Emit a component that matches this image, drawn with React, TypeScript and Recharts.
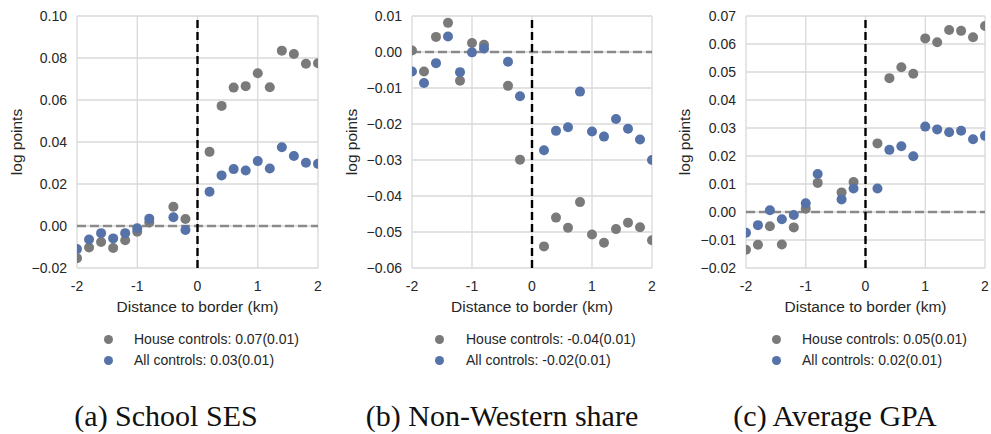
import React from "react";
import { CartesianGrid, ReferenceLine, Scatter, ScatterChart, XAxis, YAxis } from "recharts";

// distance bins (km); the -0.6 bin is missing in the source figure
const distance = [-2, -1.8, -1.6, -1.4, -1.2, -1, -0.8, -0.4, -0.2, 0.2, 0.4, 0.6, 0.8, 1, 1.2, 1.4, 1.6, 1.8, 2];
const xTicks = [-2, -1, 0, 1, 2];

const sesHouse = [-0.0153, -0.0102, -0.0076, -0.0105, -0.0068, -0.0027, 0.0017, 0.0092, 0.0033, 0.0353, 0.0572, 0.0659, 0.0666, 0.0727, 0.0661, 0.0835, 0.0819, 0.0773, 0.0775];
const sesAll = [-0.011, -0.0064, -0.0034, -0.0059, -0.0034, -0.0011, 0.0035, 0.0042, -0.0019, 0.0163, 0.0241, 0.0271, 0.0264, 0.0309, 0.0274, 0.0375, 0.0333, 0.0301, 0.0296];
const sesTicks = [-0.02, 0, 0.02, 0.04, 0.06, 0.08, 0.1];

const nwHouse = [0.0004, -0.0054, 0.0042, 0.0081, -0.008, 0.0025, 0.002, -0.0094, -0.0299, -0.054, -0.046, -0.0488, -0.0417, -0.0507, -0.053, -0.0492, -0.0474, -0.0487, -0.0523];
const nwAll = [-0.0054, -0.0086, -0.0031, 0.0043, -0.0056, -0.0001, 0.001, -0.0027, -0.0123, -0.0273, -0.0219, -0.0209, -0.011, -0.0221, -0.0235, -0.0186, -0.0213, -0.0243, -0.03];
const nwTicks = [-0.06, -0.05, -0.04, -0.03, -0.02, -0.01, 0, 0.01];

const gpaHouse = [-0.0135, -0.0117, -0.0051, -0.0116, -0.0055, 0.0012, 0.0104, 0.007, 0.0107, 0.0245, 0.0478, 0.0517, 0.0494, 0.062, 0.0606, 0.065, 0.0647, 0.0624, 0.0664];
const gpaAll = [-0.0074, -0.0047, 0.0006, -0.0026, -0.0011, 0.0031, 0.0136, 0.0045, 0.0084, 0.0084, 0.0222, 0.0235, 0.0199, 0.0305, 0.0295, 0.0285, 0.029, 0.026, 0.0272];
const gpaTicks = [-0.02, -0.01, 0, 0.01, 0.02, 0.03, 0.04, 0.05, 0.06, 0.07];

const GRAY = "#7a7a7a";
const BLUE = "#5572a9";
const TEXT = "#262626";
const SANS = "'Liberation Sans', Arial, sans-serif";

const fmtY = (v: number) => (v < 0 ? "\u2212" : "") + Math.abs(v).toFixed(2);

type PanelProps = {
  left: number;
  width: number;
  plotLeft: number;
  plotRight: number;
  house: number[];
  all: number[];
  ticks: number[];
  houseLabel: string;
  allLabel: string;
  caption: string;
  captionX: number;
  dotX: number;
  textX: number;
  yLabelX: number;
};

function Dot(props: any) {
  const { cx, cy, fill } = props;
  if (cx == null || cy == null) return null;
  return <circle cx={cx} cy={cy} r={5} fill={fill} />;
}

function Panel(p: PanelProps) {
  const houseData = distance.map((x, i) => ({ x, y: p.house[i] }));
  const allData = distance.map((x, i) => ({ x, y: p.all[i] }));
  const localLeft = p.plotLeft - p.left;
  const localRight = p.plotRight - p.left;
  const midX = (p.plotLeft + p.plotRight) / 2;
  return (
    <>
      <div style={{ position: "absolute", left: p.left, top: 0 }}>
        <ScatterChart width={p.width} height={300} margin={{ top: 16, right: p.width - localRight, bottom: 0, left: 0 }}>
          <CartesianGrid stroke="#d9d9d9" strokeWidth={1.3} />
          <XAxis
            type="number"
            dataKey="x"
            domain={[-2, 2]}
            ticks={xTicks}
            allowDataOverflow
            tickLine={false}
            axisLine={false}
            tickSize={0}
            tickMargin={13}
            height={32}
            tick={{ fontSize: 14, fill: TEXT, fontFamily: SANS }}
          />
          <YAxis
            type="number"
            dataKey="y"
            domain={[p.ticks[0], p.ticks[p.ticks.length - 1]]}
            ticks={p.ticks}
            allowDataOverflow
            tickFormatter={fmtY}
            tickLine={false}
            axisLine={false}
            tickSize={0}
            tickMargin={10}
            width={localLeft}
            tick={{ fontSize: 14, fill: TEXT, fontFamily: SANS }}
          />
          <ReferenceLine y={0} stroke="#8a8a8a" strokeWidth={2.4} strokeDasharray="9 4" />
          <Scatter data={houseData} fill={GRAY} shape={Dot} isAnimationActive={false} />
          <Scatter data={allData} fill={BLUE} shape={Dot} isAnimationActive={false} />
          <ReferenceLine x={0} stroke="#000" strokeWidth={2.4} strokeDasharray="8 4" />
        </ScatterChart>
      </div>
      <div
        style={{
          position: "absolute",
          left: p.yLabelX - 60,
          top: 142 - 8,
          width: 120,
          height: 16,
          lineHeight: "16px",
          textAlign: "center",
          transform: "rotate(-90deg)",
          fontFamily: SANS,
          fontSize: 15.5,
          color: TEXT,
        }}
      >
        log points
      </div>
      <div
        style={{
          position: "absolute",
          left: midX - 120,
          top: 306.5 - 8,
          width: 240,
          lineHeight: "16px",
          textAlign: "center",
          fontFamily: SANS,
          fontSize: 15.5,
          color: TEXT,
        }}
      >
        Distance to border (km)
      </div>
      {[
        { label: p.houseLabel, color: GRAY, y: 339 },
        { label: p.allLabel, color: BLUE, y: 360 },
      ].map((row) => (
        <React.Fragment key={row.label}>
          <div
            style={{
              position: "absolute",
              left: p.dotX - 4.5,
              top: row.y - 4.5,
              width: 9,
              height: 9,
              borderRadius: "50%",
              background: row.color,
            }}
          />
          <div
            style={{
              position: "absolute",
              left: p.textX,
              top: row.y - 8,
              lineHeight: "16px",
              whiteSpace: "nowrap",
              fontFamily: SANS,
              fontSize: 14,
              color: TEXT,
            }}
          >
            {row.label}
          </div>
        </React.Fragment>
      ))}
      <div
        style={{
          position: "absolute",
          left: p.captionX - 160,
          top: 401,
          width: 320,
          lineHeight: "30px",
          textAlign: "center",
          whiteSpace: "nowrap",
          fontFamily: "'Liberation Serif', 'DejaVu Serif', serif",
          fontSize: 30,
          color: "#111",
        }}
      >
        {p.caption}
      </div>
    </>
  );
}

export default function App() {
  return (
    <div style={{ position: "absolute", left: 0, top: 0, width: 991, height: 434, background: "#fff", overflow: "hidden" }}>
      <Panel
        left={0}
        width={330}
        plotLeft={77}
        plotRight={318}
        house={sesHouse}
        all={sesAll}
        ticks={sesTicks}
        houseLabel="House controls: 0.07(0.01)"
        allLabel="All controls: 0.03(0.01)"
        caption="(a) School SES"
        captionX={166}
        dotX={108}
        textX={134}
        yLabelX={17}
      />
      <Panel
        left={330}
        width={330}
        plotLeft={412}
        plotRight={652}
        house={nwHouse}
        all={nwAll}
        ticks={nwTicks}
        houseLabel="House controls: -0.04(0.01)"
        allLabel="All controls: -0.02(0.01)"
        caption="(b) Non-Western share"
        captionX={502}
        dotX={439}
        textX={466}
        yLabelX={352}
      />
      <Panel
        left={660}
        width={331}
        plotLeft={746}
        plotRight={985}
        house={gpaHouse}
        all={gpaAll}
        ticks={gpaTicks}
        houseLabel="House controls: 0.05(0.01)"
        allLabel="All controls: 0.02(0.01)"
        caption="(c) Average GPA"
        captionX={835}
        dotX={776}
        textX={802}
        yLabelX={685}
      />
    </div>
  );
}
